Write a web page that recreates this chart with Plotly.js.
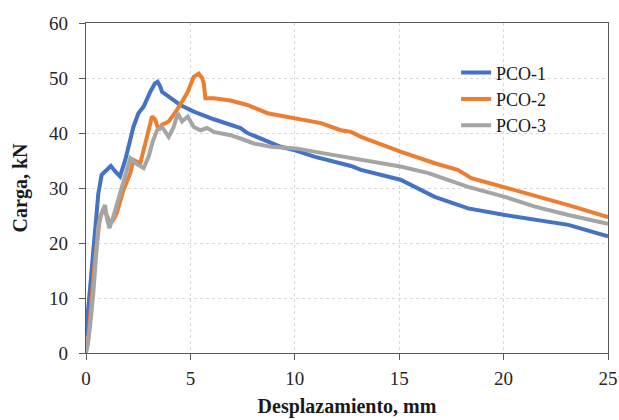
<!DOCTYPE html>
<html>
<head>
<meta charset="utf-8">
<script src="https://cdn.plot.ly/plotly-3.0.1.min.js"></script>
<style>
  html, body { margin: 0; padding: 0; background: #fff; }
  #chart { width: 619px; height: 420px; }
</style>
</head>
<body>
<div id="chart"></div>
<script>
// Load–displacement curves for the three specimens
const pco1X = [0, 0.03, 0.2, 0.35, 0.5, 0.59, 0.75, 0.95, 1.19, 1.4, 1.63, 1.88, 2.1, 2.27, 2.51, 2.76, 3.08, 3.3, 3.43, 3.55, 3.64, 3.96, 4.52, 5.16, 6.12, 7.4, 7.73, 9.33, 10.05, 10.93, 12.69, 13.17, 15.06, 16.7, 18.3, 20.06, 21.5, 23.1, 25];
const pco1Y = [3, 5, 12, 19.3, 26, 29, 32.4, 33.2, 34, 33, 32.1, 35.1, 38.5, 41.1, 43.6, 44.8, 47.5, 49, 49.3, 48.5, 47.5, 46.6, 45.1, 43.9, 42.5, 40.9, 40, 37.5, 36.8, 35.7, 34, 33.3, 31.5, 28.4, 26.3, 25.1, 24.2, 23.3, 21.2];

const pco2X = [0, 0.1, 0.25, 0.43, 0.67, 0.85, 1.0, 1.15, 1.31, 1.47, 1.79, 2.12, 2.27, 2.6, 2.92, 3.16, 3.32, 3.48, 3.64, 3.96, 4.36, 4.84, 5.16, 5.4, 5.56, 5.64, 5.72, 6.12, 6.92, 7.73, 8.69, 10.05, 11.25, 12.2, 12.69, 13.17, 15.06, 16.7, 17.8, 18.46, 20.06, 21.5, 23.1, 25];
const pco2Y = [0.5, 2, 9, 16.9, 24.8, 26, 25, 23.5, 24.2, 25.4, 29.6, 32.7, 35.1, 34.5, 39.3, 43, 42.4, 40.5, 41.5, 42.1, 44.2, 47.2, 50.2, 50.8, 50, 49, 46.3, 46.3, 45.9, 45.1, 43.6, 42.7, 41.8, 40.5, 40.2, 39.3, 36.6, 34.5, 33.3, 31.8, 30.1, 28.7, 26.9, 24.7];

const pco3X = [0, 0.06, 0.2, 0.35, 0.59, 0.75, 0.91, 1.0, 1.12, 1.31, 1.63, 1.9, 2.12, 2.36, 2.76, 3.0, 3.2, 3.4, 3.64, 3.96, 4.2, 4.39, 4.6, 4.87, 5.0, 5.16, 5.48, 5.8, 6.12, 6.92, 7.4, 8.04, 8.85, 10.05, 11.4, 12.69, 13.17, 15.06, 16.4, 18.3, 20.06, 21.5, 23.1, 25];
const pco3Y = [0, 1, 5, 10.9, 23, 25.5, 26.9, 24.5, 22.7, 24.8, 29, 32.5, 35.4, 34.5, 33.6, 35.7, 38.5, 40.5, 41.1, 39.3, 41.1, 43.6, 42.1, 43, 42, 41.1, 40.5, 40.9, 40.2, 39.6, 39, 38.1, 37.5, 37.2, 36.3, 35.4, 35.1, 33.9, 32.7, 30.2, 28.4, 26.6, 25.1, 23.5];

const seriesNames = ['PCO-1', 'PCO-2', 'PCO-3'];
const seriesColors = ['#4472C4', '#ED7D31', '#A5A5A5'];

const xTicks = [0, 5, 10, 15, 20, 25];
const yTicks = [0, 10, 20, 30, 40, 50, 60];

const serif = 'Liberation Serif, Times New Roman, serif';

const traces = [[pco1X, pco1Y], [pco2X, pco2Y], [pco3X, pco3Y]].map(([x, y], i) => ({
  x: x, y: y,
  type: 'scatter', mode: 'lines',
  name: seriesNames[i],
  line: { color: seriesColors[i], width: 4 }
}));

const axisCommon = {
  showline: true, linecolor: '#595959', linewidth: 1.3, mirror: true,
  ticks: 'outside', ticklen: 6, tickcolor: '#595959', tickwidth: 1,
  showgrid: true, gridcolor: '#d9d9d9', griddash: 'dot', gridwidth: 1,
  zeroline: false,
  tickfont: { family: serif, size: 19, color: '#262626' }
};

const layout = {
  width: 619, height: 420,
  margin: { l: 86, r: 11, t: 23, b: 67 },
  paper_bgcolor: '#fff', plot_bgcolor: '#fff',
  showlegend: true,
  legend: {
    x: 0.709, y: 0.905, xanchor: 'left', yanchor: 'top',
    bgcolor: 'rgba(0,0,0,0)',
    font: { family: serif, size: 18, color: '#1a1a1a' },
    tracegroupgap: 0
  },
  xaxis: Object.assign({}, axisCommon, {
    range: [0, 25], tickvals: xTicks, ticktext: xTicks.map(String),
    ticklabelstandoff: 2,
    title: { text: '<b>Desplazamiento, mm</b>', font: { family: serif, size: 20, color: '#1a1a1a' }, standoff: 11 }
  }),
  yaxis: Object.assign({}, axisCommon, {
    range: [0, 60], tickvals: yTicks, ticktext: yTicks.map(String),
    ticklabelstandoff: 7,
    title: { text: '<b>Carga, kN</b>', font: { family: serif, size: 20, color: '#1a1a1a' }, standoff: 16 }
  })
};

Plotly.newPlot('chart', traces, layout, { displayModeBar: false, staticPlot: true });
</script>
</body>
</html>
